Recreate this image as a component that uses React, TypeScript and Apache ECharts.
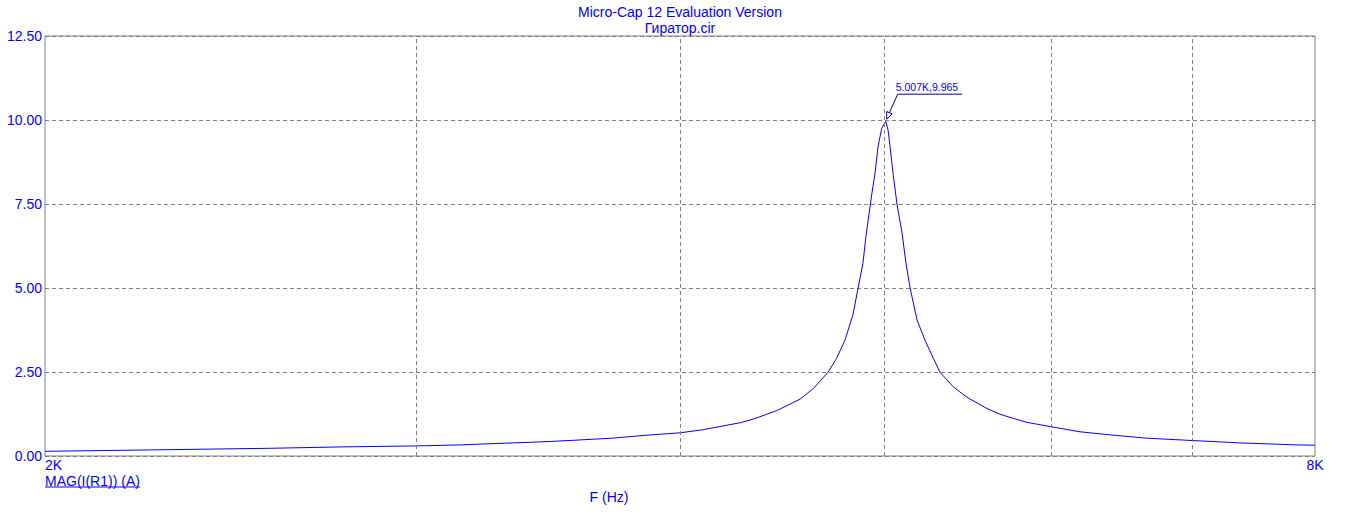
import React, { useEffect, useRef } from "react";
import * as echarts from "echarts";

const titleMain = "Micro-Cap 12 Evaluation Version";
const titleSub = "Гиратор.cir";
const xAxisName = "F (Hz)";
const traceName = "MAG(I(R1)) (A)";
const xEndLabels = ["2K", "8K"];
const xRange = [2000, 8000];
const xGridValues = [3000, 4000, 5000, 6000, 7000];
const yTicks = [0, 2.5, 5, 7.5, 10, 12.5];
const peakPoint = [5007, 9.965];
const peakLabel = "5.007K,9.965";

const freqHz = [2000, 2180, 2361, 2560, 2760, 3000, 3146, 3297, 3403, 3490, 3567, 3638, 3714, 3859, 4000, 4100, 4271, 4318, 4365, 4445, 4560, 4627, 4701, 4746, 4789, 4831, 4858, 4884, 4900, 4917, 4933, 4949, 4965, 4985, 5007, 5020, 5031, 5047, 5069, 5097, 5119, 5142, 5181, 5226, 5274, 5313, 5390, 5470, 5590, 5673, 5755, 5842, 6000, 6190, 6417, 6660, 7000, 7371, 7844, 8000];
const magA = [0.14, 0.17, 0.2, 0.23, 0.27, 0.3, 0.33, 0.38, 0.41, 0.44, 0.47, 0.5, 0.53, 0.62, 0.69, 0.78, 0.99, 1.07, 1.17, 1.35, 1.69, 2.01, 2.49, 2.91, 3.45, 4.2, 4.99, 5.73, 6.53, 7.22, 7.85, 8.42, 9.2, 9.75, 9.965, 9.7, 9.2, 8.42, 7.5, 6.64, 5.74, 5.0, 4.05, 3.45, 2.91, 2.49, 2.06, 1.75, 1.42, 1.24, 1.12, 1.0, 0.87, 0.72, 0.62, 0.53, 0.46, 0.39, 0.33, 0.32];

const FONT = "Arial, 'Liberation Sans', sans-serif";
const BLUE = "#0000ff";
const NAVY = "#000080";
const GRIDC = "#808080";

export default function App() {
  const ref = useRef<HTMLDivElement>(null);
  useEffect(() => {
    if (!ref.current) return;
    const chart = echarts.init(ref.current, undefined, { renderer: "svg" });
    const data = freqHz.map((f, i) => [f, magA[i]]);
    chart.setOption({
      animation: false,
      backgroundColor: "#ffffff",
      title: {
        text: titleMain,
        subtext: titleSub,
        left: 680,
        textAlign: "center",
        top: 4,
        itemGap: 0,
        padding: 0,
        textStyle: { color: BLUE, fontSize: 14, fontWeight: "normal", fontFamily: FONT, lineHeight: 16 },
        subtextStyle: { color: BLUE, fontSize: 14, fontFamily: FONT, lineHeight: 16 },
      },
      grid: {
        left: 45,
        right: 37,
        top: 36,
        bottom: 59,
        show: true,
        borderColor: GRIDC,
        borderWidth: 1,
        backgroundColor: "transparent",
      },
      xAxis: {
        type: "log",
        logBase: 10,
        min: xRange[0],
        max: xRange[1],
        axisLine: { show: false },
        axisTick: { show: false },
        axisLabel: { show: false },
        splitLine: { show: false },
      },
      yAxis: {
        type: "value",
        min: yTicks[0],
        max: yTicks[yTicks.length - 1],
        interval: 2.5,
        axisLine: { show: false },
        axisTick: { show: false },
        axisLabel: {
          color: BLUE,
          fontSize: 14,
          fontFamily: FONT,
          margin: 3,
          formatter: (v: number) => v.toFixed(2),
        },
        splitLine: { show: true, lineStyle: { color: GRIDC, type: [4, 3], width: 1 } },
      },
      series: [
        {
          type: "line",
          name: "grid",
          data,
          showSymbol: false,
          silent: true,
          z: 1,
          lineStyle: { opacity: 0 },
          markLine: {
            silent: true,
            symbol: "none",
            label: { show: false },
            lineStyle: { color: GRIDC, type: [4, 3], width: 1 },
            data: xGridValues.map((v) => ({ xAxis: v })),
          },
        },
        {
          type: "line",
          name: traceName,
          data,
          showSymbol: false,
          smooth: false,
          z: 3,
          lineStyle: { color: BLUE, width: 1 },
        },
      ],
    });

    const p = chart.convertToPixel({ gridIndex: 0 }, peakPoint) as number[];
    const x0 = chart.convertToPixel({ gridIndex: 0 }, [xRange[0], 0]) as number[];
    const x1 = chart.convertToPixel({ gridIndex: 0 }, [xRange[1], 0]) as number[];
    const cv = document.createElement("canvas").getContext("2d")!;
    cv.font = "14px Arial, 'Liberation Sans'";
    const legendW = cv.measureText(traceName).width;
    cv.font = "10.5px Arial, 'Liberation Sans'";
    const peakW = cv.measureText(peakLabel).width;

    const tip = [p[0] + 1, p[1] - 2];
    const dx = 10, dy = -24;
    const len = Math.sqrt(dx * dx + dy * dy);
    const ux = dx / len, uy = dy / len;
    const bx = tip[0] + ux * 7, by = tip[1] + uy * 7;
    const px = -uy * 3, py = ux * 3;
    const bend = [p[0] + 12, p[1] - 27];

    chart.setOption({
      graphic: [
        {
          type: "text",
          x: x0[0],
          y: x0[1] + 9,
          style: { text: xEndLabels[0], fill: BLUE, fontSize: 14, fontFamily: FONT, textAlign: "left", textVerticalAlign: "middle" },
        },
        {
          type: "text",
          x: x1[0],
          y: x1[1] + 9,
          style: { text: xEndLabels[1], fill: BLUE, fontSize: 14, fontFamily: FONT, textAlign: "center", textVerticalAlign: "middle" },
        },
        {
          type: "text",
          x: x0[0],
          y: x0[1] + 25,
          style: { text: traceName, fill: BLUE, fontSize: 14, fontFamily: FONT, textAlign: "left", textVerticalAlign: "middle" },
        },
        {
          type: "line",
          shape: { x1: x0[0], y1: x0[1] + 31, x2: x0[0] + legendW, y2: x0[1] + 31 },
          style: { stroke: BLUE, lineWidth: 1 },
        },
        {
          type: "text",
          x: 609,
          y: x0[1] + 41,
          style: { text: xAxisName, fill: BLUE, fontSize: 14, fontFamily: FONT, textAlign: "center", textVerticalAlign: "middle" },
        },
        {
          type: "polyline",
          shape: { points: [[bend[0] + peakW + 2, bend[1]], bend, [bx, by]] },
          style: { stroke: NAVY, lineWidth: 1, fill: "none" },
          z: 10,
        },
        {
          type: "polygon",
          shape: { points: [tip, [bx + px, by + py], [bx - px, by - py]] },
          style: { stroke: NAVY, lineWidth: 1, fill: "#ffffff" },
          z: 10,
        },
        {
          type: "text",
          x: bend[0] - 2,
          y: bend[1] - 7,
          style: { text: peakLabel, fill: BLUE, fontSize: 10.5, fontFamily: FONT, textAlign: "left", textVerticalAlign: "middle" },
          z: 10,
        },
      ],
    });
    return () => chart.dispose();
  }, []);
  return <div ref={ref} style={{ position: "fixed", left: 0, top: 0, width: 1352, height: 515 }} />;
}
